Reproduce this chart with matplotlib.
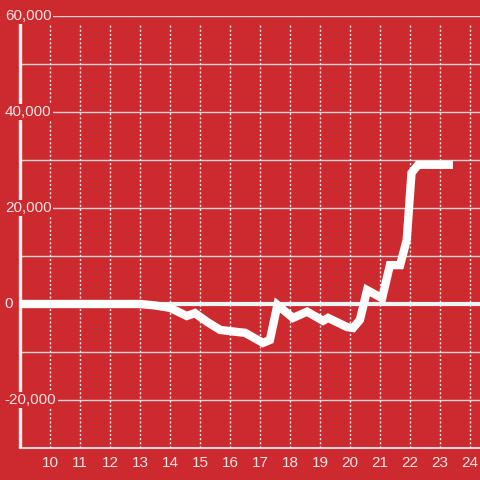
import matplotlib
matplotlib.use("Agg")
import matplotlib.pyplot as plt

hours = [9.0, 13.0, 13.5, 14.0, 14.56, 14.83, 15.23, 15.67, 16.2, 16.5, 17.1, 17.33,
         17.58, 18.1, 18.57, 19.1, 19.27, 19.9, 20.1, 20.33, 20.57, 21.07, 21.33,
         21.67, 21.89, 22.05, 22.27, 23.43]
values = [0, 0, -300, -800, -2500, -1900, -3700, -5400, -5800, -6000, -8100, -7500,
          -200, -2900, -1600, -3500, -2900, -4800, -5000, -3300, 2900, 1200, 8100,
          8100, 13300, 27300, 29000, 29000]

x_ticks = list(range(10, 25))
y_ticks = [-20000, 0, 20000, 40000, 60000]
y_labels = ["-20,000", "0", "20,000", "40,000", "60,000"]
grid_levels = [-20000, -10000, 10000, 20000, 30000, 40000, 50000, 60000]

RED = "#CD2A2F"
plt.rcParams["font.family"] = ["Liberation Sans", "DejaVu Sans"]

fig = plt.figure(figsize=(4.8, 4.8), dpi=100, facecolor=RED)
ax = fig.add_axes([20 / 480, 32 / 480, 460 / 480, 432 / 480])
ax.set_facecolor(RED)
ax.set_xlim(9.0, 24.333)
ax.set_ylim(-30000, 60000)
for s in ax.spines.values():
    s.set_visible(False)

# horizontal grid
for g in grid_levels:
    ax.axhline(g, color="#d4d4d4", lw=1.0, zorder=1)
ax.axhline(-30000, color="#d4d4d4", lw=1.5, zorder=1, clip_on=False)
# vertical dotted grid
ax.vlines(x_ticks, -30000, 58500, colors="#e8e8e8", lw=1.0, linestyles=(0, (1.5, 1.5)), zorder=1)
# left spine
ax.plot([9.0, 9.0], [-30000, 58500], color="#f2f2f2", lw=2.4, zorder=2, clip_on=False,
        solid_capstyle="butt")
# zero line
ax.axhline(0, color="#f5f5f5", lw=3.0, zorder=2)

ax.plot(hours, values, color="white", lw=6, zorder=4, solid_joinstyle="miter",
        solid_capstyle="butt")

ax.set_xticks(x_ticks)
ax.set_xticklabels([str(t) for t in x_ticks])
ax.tick_params(axis="x", length=0, pad=6, labelsize=11, labelcolor="#f5e4e4")
ax.set_yticks([])

for v, lab in zip(y_ticks, y_labels):
    ax.text(-0.033, v, lab, transform=ax.get_yaxis_transform(), ha="left", va="center",
            fontsize=11, color="#f5e4e4", zorder=5, clip_on=False,
            bbox=dict(facecolor=RED, edgecolor="none", pad=1.0))

fig.savefig("out.png", dpi=100, facecolor=RED)
